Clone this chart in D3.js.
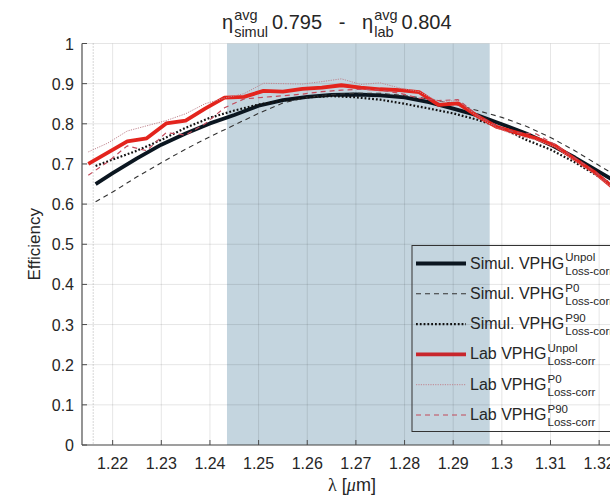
<!DOCTYPE html>
<html>
<head>
<meta charset="utf-8">
<script src="https://cdn.jsdelivr.net/npm/d3@7"></script>
<style>
  body { margin: 0; background: #fff; }
  svg { display: block; font-family: "Liberation Sans", Arial, sans-serif; }
</style>
</head>
<body>
<div id="chart"></div>
<script>
// wavelengths (um) of the lab measurements and of the simulation
const labWl = [1.215, 1.219, 1.223, 1.227, 1.231, 1.235, 1.239, 1.243, 1.247, 1.251,
  1.255, 1.259, 1.263, 1.267, 1.271, 1.275, 1.279, 1.283, 1.287, 1.291,
  1.295, 1.299, 1.303, 1.307, 1.311, 1.315, 1.319, 1.323];
const simWl = [1.2165, 1.220, 1.225, 1.230, 1.235, 1.240, 1.245, 1.250, 1.255, 1.260,
  1.265, 1.270, 1.275, 1.280, 1.285, 1.290, 1.295, 1.300, 1.305, 1.310,
  1.315, 1.320, 1.325];

const simUnpol = [0.650, 0.677, 0.714, 0.748, 0.776, 0.801, 0.822, 0.845, 0.859, 0.867,
  0.872, 0.873, 0.871, 0.866, 0.854, 0.838, 0.821, 0.799, 0.776, 0.748,
  0.716, 0.680, 0.645];
const simP0 = [0.606, 0.630, 0.668, 0.703, 0.737, 0.768, 0.797, 0.826, 0.852, 0.866,
  0.873, 0.876, 0.876, 0.870, 0.862, 0.850, 0.833, 0.816, 0.794, 0.766,
  0.733, 0.696, 0.660];
const simP90 = [0.695, 0.711, 0.733, 0.760, 0.790, 0.815, 0.833, 0.848, 0.858, 0.866,
  0.869, 0.866, 0.860, 0.850, 0.838, 0.826, 0.810, 0.790, 0.760, 0.736,
  0.704, 0.668, 0.632];

const labUnpol = [0.700, 0.728, 0.756, 0.764, 0.801, 0.808, 0.838, 0.865, 0.867, 0.882,
  0.880, 0.887, 0.890, 0.896, 0.890, 0.886, 0.884, 0.879, 0.847, 0.851,
  0.819, 0.792, 0.778, 0.764, 0.745, 0.712, 0.680, 0.640];
const labP0 = [0.730, 0.752, 0.782, 0.795, 0.808, 0.825, 0.850, 0.864, 0.875, 0.901,
  0.900, 0.899, 0.905, 0.912, 0.898, 0.902, 0.889, 0.880, 0.855, 0.858,
  0.818, 0.790, 0.770, 0.760, 0.742, 0.708, 0.675, 0.638];
const labP90 = [0.672, 0.705, 0.745, 0.733, 0.778, 0.772, 0.800, 0.840, 0.862, 0.866,
  0.870, 0.874, 0.880, 0.884, 0.886, 0.884, 0.876, 0.864, 0.858, 0.860,
  0.822, 0.793, 0.778, 0.775, 0.748, 0.715, 0.682, 0.642];

const xTicks = [1.22, 1.23, 1.24, 1.25, 1.26, 1.27, 1.28, 1.29, 1.30, 1.31, 1.32];
const xTickLabels = ["1.22", "1.23", "1.24", "1.25", "1.26", "1.27", "1.28", "1.29", "1.3", "1.31", "1.32"];
const yTicks = [0, 0.1, 0.2, 0.3, 0.4, 0.5, 0.6, 0.7, 0.8, 0.9, 1];
const yTickLabels = ["0", "0.1", "0.2", "0.3", "0.4", "0.5", "0.6", "0.7", "0.8", "0.9", "1"];

const band = [1.2435, 1.2975];   // shaded averaging range
const startLine = 1.2160;        // dotted vertical marker
const etaSimul = "0.795";
const etaLab = "0.804";

const legendMain = ["Simul. VPHG", "Simul. VPHG", "Simul. VPHG", "Lab VPHG", "Lab VPHG", "Lab VPHG"];
const legendSup = ["Unpol", "P0", "P90", "Unpol", "P0", "P90"];
const legendSub = "Loss-corr";

const width = 610, height = 497;
const margin = {top: 43.5, left: 82, bottom: 52};

const svg = d3.select("#chart").append("svg")
  .attr("width", width)
  .attr("height", height);

const x = d3.scaleLinear().domain([1.2137, 1.335]).range([margin.left, margin.left + 0.1213 * 4865]);
const y = d3.scaleLinear().domain([0, 1]).range([height - margin.bottom, margin.top]);
const x0 = x.range()[0], x1 = x.range()[1];
const yb = y(0), yt = y(1);

// shaded band
svg.append("rect")
  .attr("x", x(band[0])).attr("y", yt)
  .attr("width", x(band[1]) - x(band[0]))
  .attr("height", yb - yt)
  .attr("fill", "#c4d5df");

// grid
const grid = svg.append("g").attr("stroke", "#000").attr("stroke-opacity", 0.1).attr("stroke-width", 1);
grid.selectAll(".gx").data(xTicks.concat([1.33])).enter().append("line")
  .attr("x1", d => x(d)).attr("x2", d => x(d))
  .attr("y1", yt).attr("y2", yb);
grid.selectAll(".gy").data(yTicks).enter().append("line")
  .attr("x1", x0).attr("x2", x1)
  .attr("y1", d => y(d)).attr("y2", d => y(d));

svg.append("line")
  .attr("x1", x(startLine)).attr("x2", x(startLine))
  .attr("y1", yt).attr("y2", yb)
  .attr("stroke", "#999").attr("stroke-width", 0.8)
  .attr("stroke-dasharray", "1,2");

// series
const series = [
  {wl: simWl, v: simUnpol, color: "#0b1620", w: 3.8, dash: null},
  {wl: simWl, v: simP0, color: "#333", w: 1.1, dash: "5,4"},
  {wl: simWl, v: simP90, color: "#111", w: 2.2, dash: "1.8,2"},
  {wl: labWl, v: labUnpol, color: "#e3241d", w: 3.8, dash: null},
  {wl: labWl, v: labP0, color: "#c0858f", w: 1, dash: "1.2,1.2"},
  {wl: labWl, v: labP90, color: "#c24a5a", w: 1.2, dash: "5,4"}
];

const line = d3.line().x(d => x(d[0])).y(d => y(d[1]));

svg.append("g").selectAll("path")
  .data(series).enter().append("path")
  .attr("d", s => line(s.wl.map((w, i) => [w, s.v[i]])))
  .attr("fill", "none")
  .attr("stroke", s => s.color)
  .attr("stroke-width", s => s.w)
  .attr("stroke-dasharray", s => s.dash)
  .attr("stroke-linejoin", "round");

// axes
const axisColor = "#4d4d4d";
svg.append("line").attr("x1", x0).attr("x2", x1).attr("y1", yb).attr("y2", yb)
  .attr("stroke", axisColor).attr("stroke-width", 1.2);
svg.append("line").attr("x1", x0).attr("x2", x0).attr("y1", yt).attr("y2", yb)
  .attr("stroke", axisColor).attr("stroke-width", 1.2);

svg.append("g").selectAll("line").data(xTicks).enter().append("line")
  .attr("x1", d => x(d)).attr("x2", d => x(d))
  .attr("y1", yb).attr("y2", yb - 5)
  .attr("stroke", axisColor);
svg.append("g").selectAll("line").data(yTicks).enter().append("line")
  .attr("x1", x0).attr("x2", x0 + 5)
  .attr("y1", d => y(d)).attr("y2", d => y(d))
  .attr("stroke", axisColor);

svg.append("g").selectAll("text").data(xTicks).enter().append("text")
  .attr("x", d => x(d)).attr("y", yb + 24)
  .attr("text-anchor", "middle")
  .attr("font-size", 16).attr("fill", "#262626")
  .text((d, i) => xTickLabels[i]);
svg.append("g").selectAll("text").data(yTicks).enter().append("text")
  .attr("x", x0 - 8).attr("y", d => y(d) + 6)
  .attr("text-anchor", "end")
  .attr("font-size", 16).attr("fill", "#262626")
  .text((d, i) => yTickLabels[i]);

svg.append("text")
  .attr("transform", "translate(40," + ((yt + yb) / 2) + ") rotate(-90)")
  .attr("text-anchor", "middle")
  .attr("font-size", 17).attr("fill", "#262626")
  .text("Efficiency");

const xl = svg.append("text")
  .attr("x", 352).attr("y", 491)
  .attr("text-anchor", "middle")
  .attr("font-size", 18).attr("fill", "#262626");
xl.append("tspan").attr("font-family", "'Liberation Serif', serif").text("λ");
xl.append("tspan").text(" [");
xl.append("tspan").attr("font-family", "'Liberation Serif', serif").attr("font-style", "italic").text("μ");
xl.append("tspan").text("m]");

// helper: text with stacked superscript / subscript
function stacked(g, xPos, yBase, main, sup, sub, size, small) {
  const t = g.append("text").attr("x", xPos).attr("y", yBase)
    .attr("font-size", size).attr("fill", "#262626").text(main);
  const wMain = t.node().getComputedTextLength();
  const s1 = g.append("text").attr("x", xPos + wMain + 1).attr("y", yBase - size * 0.45)
    .attr("font-size", small).attr("fill", "#262626").text(sup);
  const s2 = g.append("text").attr("x", xPos + wMain + 1).attr("y", yBase + size * 0.38)
    .attr("font-size", small).attr("fill", "#262626").text(sub);
  return xPos + wMain + 1 + Math.max(s1.node().getComputedTextLength(), s2.node().getComputedTextLength());
}

// title
const tg = svg.append("g");
let tx = stacked(tg, 222, 29, "η", "avg", "simul", 20, 14.5);
const t1 = tg.append("text").attr("x", tx + 4).attr("y", 29).attr("font-size", 20).attr("fill", "#262626")
  .style("white-space", "pre")
  .text(etaSimul + "   -   ");
tx = tx + 4 + t1.node().getComputedTextLength();
tx = stacked(tg, tx, 29, "η", "avg", "lab", 20, 14.5);
tg.append("text").attr("x", tx + 4).attr("y", 29).attr("font-size", 20).attr("fill", "#262626")
  .text(etaLab);

// legend
const lg = svg.append("g");
lg.append("rect")
  .attr("x", 412).attr("y", 245.5)
  .attr("width", 260).attr("height", 186)
  .attr("fill", "none").attr("stroke", "#333").attr("stroke-width", 1);
series.forEach((s, i) => {
  const ly = 263.5 + i * 30.3;
  lg.append("line")
    .attr("x1", 416).attr("x2", 466).attr("y1", ly).attr("y2", ly)
    .attr("stroke", i === 3 ? "#c8262c" : s.color)
    .attr("stroke-width", s.w)
    .attr("stroke-dasharray", s.dash);
  stacked(lg, 470, ly + 5, legendMain[i], legendSup[i], legendSub, 16, 11.5);
});
</script>
</body>
</html>
